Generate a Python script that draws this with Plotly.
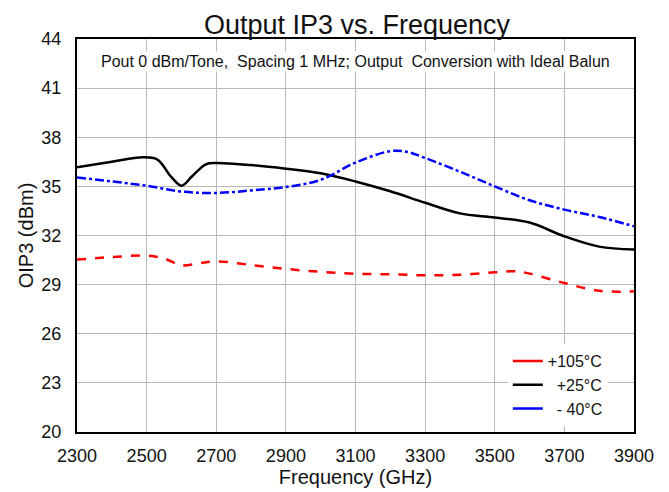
import plotly.graph_objects as go

# frequency points (GHz) for each curve
freq_105 = [2300, 2400, 2500, 2550, 2600, 2650, 2700, 2800, 2900, 3000, 3100, 3200, 3300, 3400, 3500, 3560, 3600, 3700, 3800, 3900]
oip3_105 = [30.53, 30.68, 30.77, 30.6, 30.18, 30.3, 30.42, 30.2, 29.96, 29.78, 29.66, 29.63, 29.57, 29.6, 29.75, 29.82, 29.67, 29.1, 28.62, 28.59]

freq_25 = [2300, 2400, 2480, 2530, 2570, 2600, 2630, 2670, 2700, 2800, 2900, 3000, 3100, 3200, 3300, 3400, 3500, 3600, 3700, 3800, 3900]
oip3_25 = [36.16, 36.5, 36.77, 36.65, 35.6, 35.04, 35.6, 36.35, 36.43, 36.3, 36.08, 35.8, 35.3, 34.7, 34.0, 33.35, 33.1, 32.79, 31.95, 31.32, 31.14]

freq_m40 = [2300, 2400, 2500, 2600, 2700, 2800, 2900, 3000, 3100, 3200, 3250, 3300, 3400, 3500, 3600, 3700, 3800, 3900]
oip3_m40 = [35.55, 35.3, 35.04, 34.68, 34.6, 34.75, 34.96, 35.4, 36.45, 37.15, 37.1, 36.73, 35.9, 35.0, 34.15, 33.58, 33.13, 32.56]

names = ["+105°C", "\u00a0\u00a0+25°C", "\u00a0\u00a0- 40°C"]
colors = ["#ff0000", "#000000", "#0000ff"]
x_ticks = [2300, 2500, 2700, 2900, 3100, 3300, 3500, 3700, 3900]
y_ticks = [20, 23, 26, 29, 32, 35, 38, 41, 44]

fig = go.Figure()
fig.add_trace(go.Scatter(x=freq_105, y=oip3_105, mode="lines", showlegend=False,
                         line=dict(color=colors[0], width=2.5, dash="dash", shape="spline")))
fig.add_trace(go.Scatter(x=freq_25, y=oip3_25, mode="lines", showlegend=False,
                         line=dict(color=colors[1], width=2.5, shape="spline")))
fig.add_trace(go.Scatter(x=freq_m40, y=oip3_m40, mode="lines", showlegend=False,
                         line=dict(color=colors[2], width=2.5, dash="dashdot", shape="spline")))

# legend keys are drawn as short solid strokes in the original
for name, c in zip(names, colors):
    fig.add_trace(go.Scatter(x=[None], y=[None], mode="lines", name=name,
                             line=dict(color=c, width=2.5)))

fig.add_annotation(
    text="Pout 0 dBm/Tone,  Spacing 1 MHz; Output  Conversion with Ideal Balun",
    xref="paper", yref="y", x=0.5, y=42.6, showarrow=False,
    font=dict(size=16, color="#111111"), bgcolor="white",
)

fig.update_xaxes(
    range=[2300, 3900], tickvals=x_ticks, showgrid=True, gridcolor="#b8b8b8", gridwidth=1,
    showline=True, linecolor="black", linewidth=2, mirror=True, zeroline=False,
    ticks="", ticklabelstandoff=6, tickfont=dict(size=18, color="#111111"), automargin=False,
    title=dict(text="Frequency (GHz)", font=dict(size=20, color="#111111"), standoff=2),
)
fig.update_yaxes(
    range=[20, 44], tickvals=y_ticks, showgrid=True, gridcolor="#b8b8b8", gridwidth=1,
    showline=True, linecolor="black", linewidth=2, mirror=True, zeroline=False,
    ticks="", ticklabelstandoff=10, tickfont=dict(size=18, color="#111111"), automargin=False,
    title=dict(text="OIP3 (dBm)", font=dict(size=20, color="#111111"), standoff=2),
)

fig.update_layout(
    width=661, height=484,
    font=dict(family="Liberation Sans, Arial, sans-serif"),
    title=dict(text="Output IP3 vs. Frequency", x=0.528, xanchor="center", y=0.966, yanchor="middle",
               font=dict(size=27, color="#111111")),
    plot_bgcolor="white", paper_bgcolor="white",
    margin=dict(l=69, r=35, t=31, b=60, autoexpand=False),
    legend=dict(x=0.953, y=0.015, xanchor="right", yanchor="bottom", bgcolor="white",
                font=dict(size=16, color="#111111"), itemwidth=30, tracegroupgap=0),
)

fig.write_html("out.html")
